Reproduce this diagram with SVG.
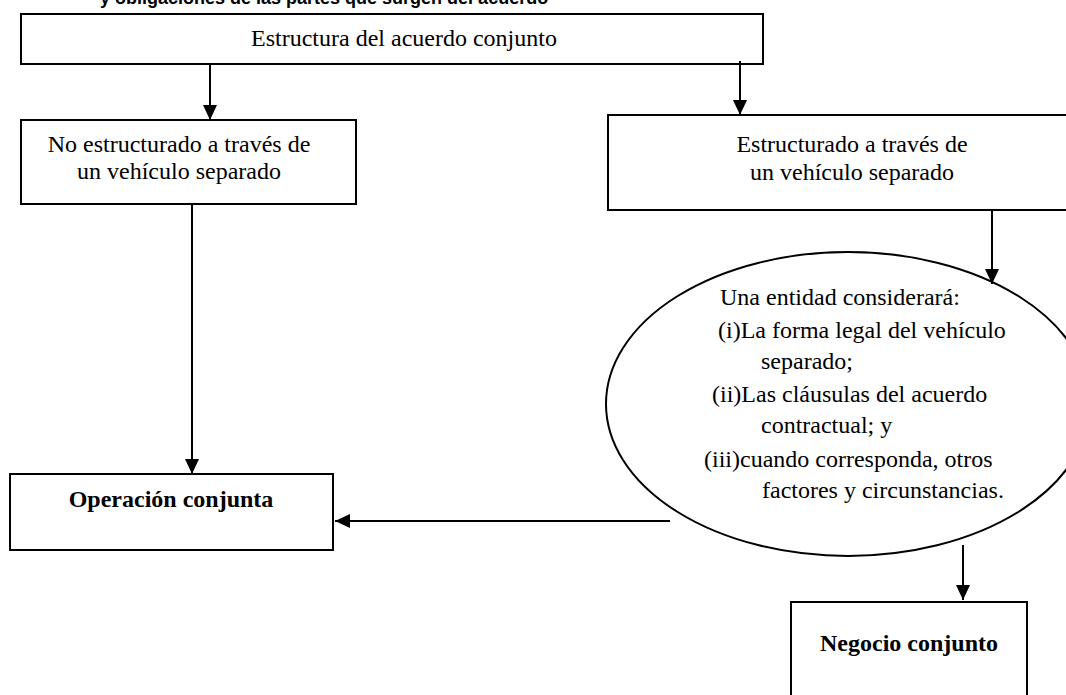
<svg xmlns="http://www.w3.org/2000/svg" width="1066" height="695" viewBox="0 0 1066 695">
<style>
.box{fill:#fff;stroke:#000;stroke-width:2}
.t{font-family:"Liberation Serif","Times New Roman",serif;font-size:24px;fill:#000}
.b{font-weight:bold}
.c{stroke:#000;stroke-width:2;fill:none}
</style>
<defs>
<marker id="ah" markerUnits="userSpaceOnUse" markerWidth="15" markerHeight="14" refX="15" refY="7" orient="auto">
<path d="M0,0 L15,7 L0,14 Z" fill="#000"/>
</marker>
</defs>
<rect width="1066" height="695" fill="#fff"/>
<text x="100" y="4" style="font-family:'Liberation Sans',Arial,sans-serif;font-size:18px;font-weight:bold">y obligaciones de las partes que surgen del acuerdo</text>
<g id="top">
<rect class="box" x="21" y="14" width="742" height="50"/>
<text class="t" x="404" y="46" text-anchor="middle">Estructura del acuerdo conjunto</text>
</g>
<g id="noveh">
<rect class="box" x="21" y="120" width="335" height="84"/>
<text class="t" x="179" y="152" text-anchor="middle">No estructurado a través de</text>
<text class="t" x="179" y="179" text-anchor="middle">un vehículo separado</text>
</g>
<g id="veh">
<rect class="box" x="608" y="115" width="470" height="95"/>
<text class="t" x="852" y="152" text-anchor="middle">Estructurado a través de</text>
<text class="t" x="852" y="180" text-anchor="middle">un vehículo separado</text>
</g>
<g id="consid">
<ellipse class="box" cx="848" cy="404" rx="242" ry="152"/>
<text class="t" x="720" y="305">Una entidad considerará:</text>
<text class="t" x="718" y="338">(i)La forma legal del vehículo</text>
<text class="t" x="761" y="369">separado;</text>
<text class="t" x="712" y="402">(ii)Las cláusulas del acuerdo</text>
<text class="t" x="761" y="433">contractual; y</text>
<text class="t" x="704" y="467">(iii)cuando corresponda, otros</text>
<text class="t" x="762" y="498">factores y circunstancias.</text>
</g>
<g id="opconj">
<rect class="box" x="10" y="474" width="323" height="76"/>
<text class="t b" x="171" y="507" text-anchor="middle">Operación conjunta</text>
</g>
<g id="negconj">
<rect class="box" x="791" y="602" width="236" height="100"/>
<text class="t b" x="909" y="651" text-anchor="middle">Negocio conjunto</text>
</g>
<g id="connectors">
<line class="c" x1="210" y1="64" x2="210" y2="120" marker-end="url(#ah)"/>
<line class="c" x1="740" y1="61" x2="740" y2="115" marker-end="url(#ah)"/>
<line class="c" x1="192" y1="204" x2="192" y2="474" marker-end="url(#ah)"/>
<line class="c" x1="992" y1="210" x2="992" y2="284" marker-end="url(#ah)"/>
<line class="c" x1="670" y1="521" x2="335" y2="521" marker-end="url(#ah)"/>
<line class="c" x1="963" y1="545" x2="963" y2="600" marker-end="url(#ah)"/>
</g>
</svg>
